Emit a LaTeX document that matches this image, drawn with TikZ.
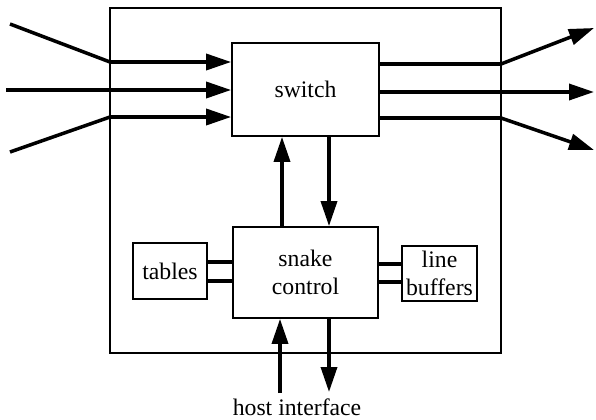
\documentclass[tikz,border=0pt]{standalone}
\usepackage{fontspec}
\setmainfont{Liberation Serif}
\usetikzlibrary{arrows.meta}
\tikzset{
  blk/.style={draw,line width=1pt,inner sep=0pt,align=center,
    font=\fontsize{13.5}{16}\selectfont},
  arr/.style={line width=2pt,-{Triangle[length=5mm,width=3.2mm]}},
  wire/.style={line width=2pt}
}
\begin{document}
\begin{tikzpicture}[x=.2mm,y=-.2mm]
\useasboundingbox (0,0) rectangle (596,419);
\draw[line width=1pt] (110,8) rectangle (501,353);
\node[blk,minimum width=29.4mm,minimum height=18.6mm] (switch) at (305.5,89.5) {switch};
\node[blk,minimum width=29mm,minimum height=18.2mm] (snake) at (305.5,272.5) {snake\\control};
\node[blk,minimum width=14.8mm,minimum height=11.2mm] (tables) at (170,271) {tables};
\node[blk,minimum width=15mm,minimum height=11mm] (buffers) at (439.5,273.5) {line\\buffers};
\node[font=\fontsize{13.5}{16}\selectfont,inner sep=1pt] (host) at (297,407) {host interface};
%% lines in and out
\coordinate (in1) at (10,24);  \coordinate (b1) at (110,62);
\coordinate (in2) at (6,90);   \coordinate (b2) at (110,90);
\coordinate (in3) at (10,152); \coordinate (b3) at (110,117);
\coordinate (out1) at (594,28);  \coordinate (c1) at (501,64);
\coordinate (out2) at (594,92);  \coordinate (c2) at (501,92);
\coordinate (out3) at (594,150); \coordinate (c3) at (501,118);
\foreach \i in {1,2,3}
{
\draw[wire] (in\i) -- (b\i);
\draw[arr] (b\i) -- (b\i -| switch.west);
\draw[arr] (switch.east |- c\i) -- (c\i) -- (out\i);
}
%% control
\draw[arr] (282,0 |- snake.north) -- (282,0 |- switch.south);
\draw[arr] (329,0 |- switch.south) -- (329,0 |- snake.north);
\foreach \y in {262,281}
\draw[wire] (tables.east |- 0,\y) -- (snake.west |- 0,\y);
\foreach \y in {264,282}
\draw[wire] (snake.east |- 0,\y) -- (buffers.west |- 0,\y);
%% host
\draw[arr] (280,393) -- (280,0 |- snake.south);
\draw[arr] (329,0 |- snake.south) -- (329,392);
\end{tikzpicture}
\end{document}
